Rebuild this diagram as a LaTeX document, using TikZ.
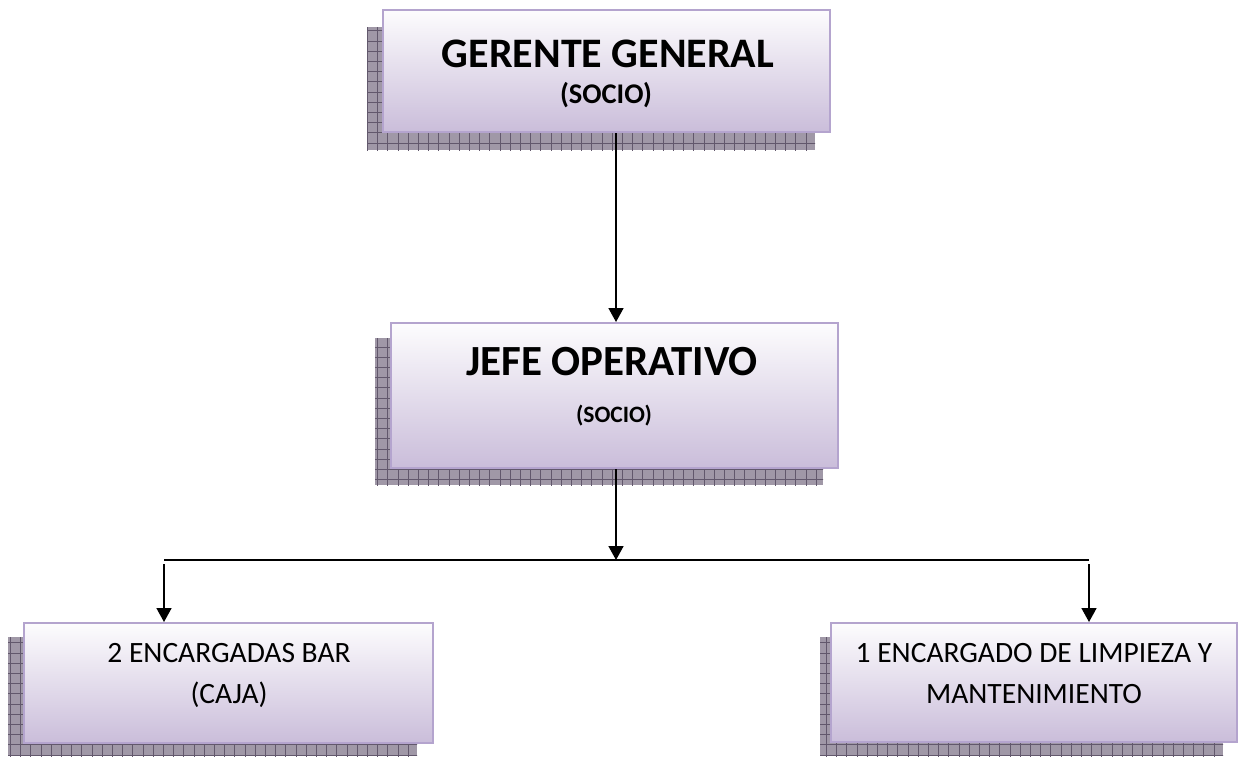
\documentclass[tikz,border=0pt]{standalone}
\usepackage{fontspec}
\setmainfont{Carlito}
\usetikzlibrary{arrows.meta,calc}
\definecolor{boxedge}{RGB}{180,164,206}
\definecolor{boxbot}{RGB}{202,189,218}
\definecolor{shadfill}{RGB}{160,152,167}
\definecolor{shadgrid}{RGB}{98,88,108}
\tikzset{
  orgbox/.style={draw=boxedge, line width=2pt, top color=white!96!boxbot, bottom color=boxbot, inner sep=0pt},
  arr/.style={line width=1.6pt, -{Triangle[width=15pt,length=14pt]}},
  conn/.style={line width=1.6pt},
  bigtxt/.style={font=\fontsize{42}{46}\selectfont\bfseries, anchor=base, inner sep=0pt},
  bigtxtb/.style={font=\fontsize{43}{46}\selectfont\bfseries, anchor=base, inner sep=0pt},
  midtxt/.style={font=\fontsize{28.5}{32}\selectfont\bfseries, anchor=base, inner sep=0pt},
  smtxt/.style={font=\fontsize{23.5}{27}\selectfont\bfseries, anchor=base, inner sep=0pt},
  regtxt/.style={font=\fontsize{29.5}{33}\selectfont, anchor=base, inner sep=0pt},
}
\newcommand{\gridshadow}[2]{%
  \fill[shadfill] #1 rectangle #2;
  \begin{scope}
    \clip #1 rectangle #2;
    \draw[shadgrid, line width=0.6pt, step=10.2pt] ($#1+(-20,-20)$) grid ($#2+(20,20)$);
  \end{scope}
}
\begin{document}
\begin{tikzpicture}[x=1pt,y=-1pt]
\useasboundingbox (0,0) rectangle (1238,756);
\fill[white] (0,0) rectangle (1238,756);
% shadows
\gridshadow{(367,27)}{(815,150)}
\gridshadow{(375,338)}{(823,485)}
\gridshadow{(8,637)}{(417,756)}
\gridshadow{(820,637)}{(1223,756)}
% boxes
\node[orgbox, minimum width=447pt, minimum height=122pt] (b1) at (606.5,71) {};
\node[orgbox, minimum width=447pt, minimum height=145pt] (b2) at (614.5,395.5) {};
\node[orgbox, minimum width=409pt, minimum height=120pt] (b3) at (228.5,683) {};
\node[orgbox, minimum width=406pt, minimum height=119pt] (b4) at (1034,682.5) {};
% texts
\node[bigtxt] (t1a) at (608,67) {GERENTE GENERAL};
\node[midtxt] (t1b) at (606,103) {(SOCIO)};
\node[bigtxtb] (t2a) at (612,375) {JEFE OPERATIVO};
\node[smtxt] (t2b) at (614,422) {(SOCIO)};
\node[regtxt] (t3a) at (229,662) {2 ENCARGADAS BAR};
\node[regtxt] (t3b) at (229,703) {(CAJA)};
\node[regtxt] (t4a) at (1034,662) {1 ENCARGADO DE LIMPIEZA Y};
\node[regtxt] (t4b) at (1034,703) {MANTENIMIENTO};
% connectors
\coordinate (j) at (616,560);
\coordinate (l) at (164,560);
\coordinate (r) at (1089,560);
\draw[arr] (b1.south -| j) -- (b2.north -| j);
\draw[arr] (b2.south -| j) -- (j);
\draw[conn] (l) -- (r);
\draw[arr] ($(l)+(0,4)$) -- (b3.north -| l);
\draw[arr] ($(r)+(0,4)$) -- (b4.north -| r);
\end{tikzpicture}
\end{document}
